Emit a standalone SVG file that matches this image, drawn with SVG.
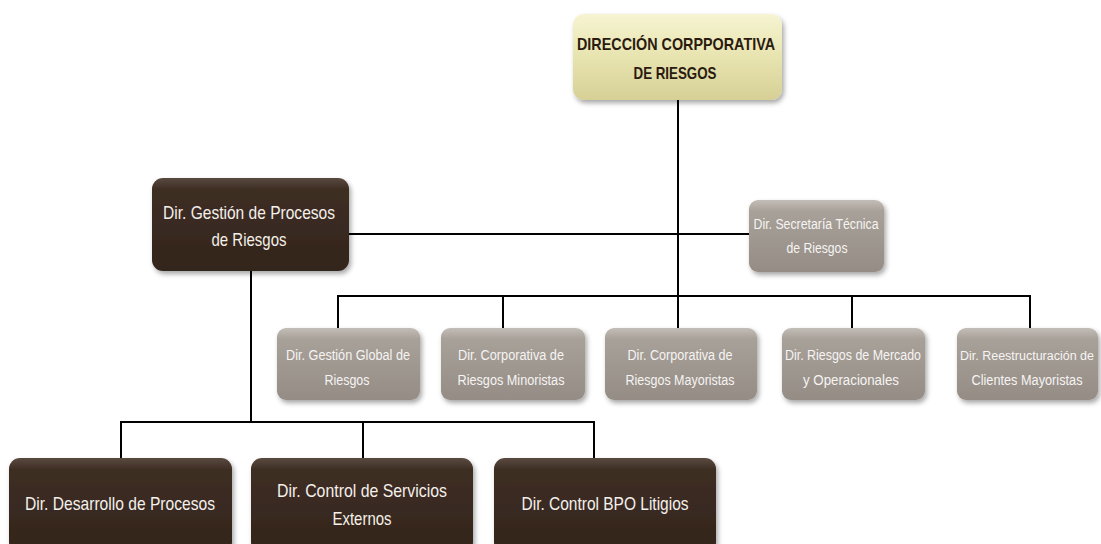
<svg xmlns="http://www.w3.org/2000/svg" width="1101" height="544" viewBox="0 0 1101 544">
<defs>
<linearGradient id="gTop" x1="0" y1="0" x2="0" y2="1">
<stop offset="0" stop-color="#f6f4d2"/><stop offset="0.5" stop-color="#e8e4b0"/><stop offset="1" stop-color="#d6d096"/>
</linearGradient>
<linearGradient id="gBrown" x1="0" y1="0" x2="0" y2="1">
<stop offset="0" stop-color="#5a4a40"/><stop offset="0.12" stop-color="#3e2e24"/><stop offset="1" stop-color="#33251c"/>
</linearGradient>
<linearGradient id="gGray" x1="0" y1="0" x2="0" y2="1">
<stop offset="0" stop-color="#c4beb8"/><stop offset="0.15" stop-color="#a8a19a"/><stop offset="1" stop-color="#948c85"/>
</linearGradient>
<filter id="sh" x="-10%" y="-10%" width="125%" height="130%">
<feDropShadow dx="2" dy="3" stdDeviation="2.5" flood-color="#000" flood-opacity="0.35"/>
</filter>
</defs>
<style>
.top{fill:url(#gTop);filter:url(#sh)}
.brown{fill:url(#gBrown);filter:url(#sh)}
.gray{fill:url(#gGray);filter:url(#sh)}
text{font-family:"Liberation Sans",Arial,sans-serif;text-anchor:middle}
.tt{fill:#2a1a10;font-weight:bold;font-size:17px}
.tb{fill:#f4f0ea;font-size:19px}
.tg{fill:#f6f4f2;font-size:14px}
.conn line{stroke:#000;stroke-width:2}
</style>
<g id="connectors" class="conn">
<line x1="678" y1="100" x2="678" y2="329"/>
<line x1="348" y1="234" x2="750" y2="234"/>
<line x1="337" y1="296" x2="1031" y2="296"/>
<line x1="338" y1="296" x2="338" y2="329"/>
<line x1="503" y1="296" x2="503" y2="329"/>
<line x1="852" y1="296" x2="852" y2="329"/>
<line x1="1030" y1="296" x2="1030" y2="329"/>
<line x1="251" y1="271" x2="251" y2="423"/>
<line x1="120" y1="422" x2="595" y2="422"/>
<line x1="121" y1="422" x2="121" y2="459"/>
<line x1="363" y1="422" x2="363" y2="459"/>
<line x1="594" y1="422" x2="594" y2="459"/>
</g>
<g id="n-direccion">
<rect class="top" x="573" y="14" width="209" height="86" rx="11"/>
<text class="tt" x="676" y="50" textLength="198" lengthAdjust="spacingAndGlyphs">DIRECCIÓN CORPPORATIVA</text>
<text class="tt" x="675" y="79" textLength="83" lengthAdjust="spacingAndGlyphs">DE RIESGOS</text>
</g>
<g id="n-gestion-procesos">
<rect class="brown" x="152" y="178" width="197" height="93" rx="11"/>
<text class="tb" x="249" y="219" textLength="172" lengthAdjust="spacingAndGlyphs">Dir. Gestión de Procesos</text>
<text class="tb" x="249" y="246" textLength="75" lengthAdjust="spacingAndGlyphs">de Riesgos</text>
</g>
<g id="n-secretaria">
<rect class="gray" x="749" y="200" width="135" height="72" rx="9"/>
<text class="tg" x="816" y="229" textLength="125" lengthAdjust="spacingAndGlyphs">Dir. Secretaría Técnica</text>
<text class="tg" x="817" y="253" textLength="61" lengthAdjust="spacingAndGlyphs">de Riesgos</text>
</g>
<g id="n-global">
<rect class="gray" x="277" y="328" width="143" height="72" rx="9"/>
<text class="tg" x="348" y="360" textLength="124" lengthAdjust="spacingAndGlyphs">Dir. Gestión Global de</text>
<text class="tg" x="347" y="385" textLength="45" lengthAdjust="spacingAndGlyphs">Riesgos</text>
</g>
<g id="n-minoristas">
<rect class="gray" x="441" y="328" width="144" height="72" rx="9"/>
<text class="tg" x="511" y="360" textLength="106" lengthAdjust="spacingAndGlyphs">Dir. Corporativa de</text>
<text class="tg" x="511" y="385" textLength="107" lengthAdjust="spacingAndGlyphs">Riesgos Minoristas</text>
</g>
<g id="n-mayoristas">
<rect class="gray" x="605" y="328" width="152" height="72" rx="9"/>
<text class="tg" x="680" y="360" textLength="105" lengthAdjust="spacingAndGlyphs">Dir. Corporativa de</text>
<text class="tg" x="680" y="385" textLength="109" lengthAdjust="spacingAndGlyphs">Riesgos Mayoristas</text>
</g>
<g id="n-mercado">
<rect class="gray" x="782" y="328" width="143" height="72" rx="9"/>
<text class="tg" x="853" y="360" textLength="136" lengthAdjust="spacingAndGlyphs">Dir. Riesgos de Mercado</text>
<text class="tg" x="851" y="385" textLength="96" lengthAdjust="spacingAndGlyphs">y Operacionales</text>
</g>
<g id="n-reestructuracion">
<rect class="gray" x="957" y="328" width="141" height="72" rx="9"/>
<text class="tg" x="1027" y="360" style="font-size:12.5px" textLength="134" lengthAdjust="spacingAndGlyphs">Dir. Reestructuración de</text>
<text class="tg" x="1027" y="385" textLength="111" lengthAdjust="spacingAndGlyphs">Clientes Mayoristas</text>
</g>
<g id="n-desarrollo">
<rect class="brown" x="9" y="458" width="223" height="95" rx="11"/>
<text class="tb" x="120" y="510" textLength="190" lengthAdjust="spacingAndGlyphs">Dir. Desarrollo de Procesos</text>
</g>
<g id="n-servicios">
<rect class="brown" x="251" y="458" width="222" height="95" rx="11"/>
<text class="tb" x="362" y="497" textLength="170" lengthAdjust="spacingAndGlyphs">Dir. Control de Servicios</text>
<text class="tb" x="362" y="525" textLength="59" lengthAdjust="spacingAndGlyphs">Externos</text>
</g>
<g id="n-bpo">
<rect class="brown" x="494" y="458" width="222" height="95" rx="11"/>
<text class="tb" x="605" y="510" textLength="167" lengthAdjust="spacingAndGlyphs">Dir. Control BPO Litigios</text>
</g>
</svg>
